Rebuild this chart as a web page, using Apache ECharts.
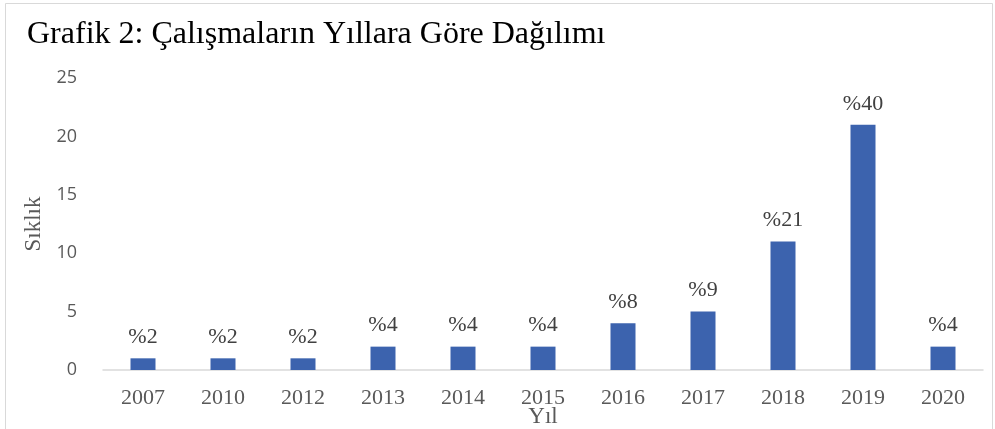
<!DOCTYPE html>
<html>
<head>
<meta charset="utf-8">
<script src="https://cdn.jsdelivr.net/npm/echarts@6/dist/echarts.min.js"></script>
<style>
  html, body { margin: 0; padding: 0; background: #fff; }
  #chart { width: 995px; height: 429px; }
</style>
</head>
<body>
<div id="chart"></div>
<script>
// yıllar ve frekanslar
const years = ['2007', '2010', '2012', '2013', '2014', '2015', '2016', '2017', '2018', '2019', '2020'];
const counts = [1, 1, 1, 2, 2, 2, 4, 5, 11, 21, 2];
const percents = ['%2', '%2', '%2', '%4', '%4', '%4', '%8', '%9', '%21', '%40', '%4'];

const serif = '"Liberation Serif", "DejaVu Serif", serif';

const myChart = echarts.init(document.getElementById('chart'));

const option = {
  animation: false,
  backgroundColor: '#fff',
  title: {
    text: 'Grafik 2: Çalışmaların Yıllara Göre Dağılımı',
    left: 22,
    top: 14,
    textStyle: {
      fontFamily: serif,
      fontWeight: 'normal',
      fontSize: 32,
      color: '#000'
    }
  },
  graphic: [
    {
      type: 'rect',
      shape: { x: 5.5, y: 3.5, width: 987, height: 440 },
      style: { fill: 'none', stroke: '#d9d9d9', lineWidth: 1 }
    }
  ],
  grid: {
    left: 103,
    right: 12,
    top: 78,
    bottom: 59,
    containLabel: false,
    outerBoundsMode: 'none'
  },
  xAxis: {
    type: 'category',
    data: years,
    name: 'Yıl',
    nameLocation: 'middle',
    nameGap: 35,
    nameMoveOverlap: false,
    nameTextStyle: { fontFamily: serif, fontSize: 23, color: '#595959' },
    axisLine: { lineStyle: { color: '#d9d9d9', width: 1.5 } },
    axisTick: { show: false },
    axisLabel: {
      fontFamily: serif,
      fontSize: 22,
      color: '#595959',
      margin: 17
    }
  },
  yAxis: {
    type: 'value',
    min: 0,
    max: 25,
    interval: 5,
    name: 'Sıklık',
    nameLocation: 'middle',
    nameGap: 58,
    nameMoveOverlap: false,
    nameTextStyle: { fontFamily: serif, fontSize: 23, color: '#595959' },
    axisLine: { show: false },
    axisTick: { show: false },
    splitLine: { show: false },
    axisLabel: {
      fontFamily: '"Open Sans", "Noto Sans", sans-serif',
      fontSize: 18,
      color: '#595959',
      margin: 26
    }
  },
  series: [
    {
      type: 'bar',
      data: counts,
      barWidth: 25,
      itemStyle: { color: '#3c63ae' },
      label: {
        show: true,
        position: 'top',
        distance: 10,
        fontFamily: serif,
        fontSize: 22,
        color: '#404040',
        formatter: function (p) { return percents[p.dataIndex]; }
      }
    }
  ]
};

myChart.setOption(option);
</script>
</body>
</html>
